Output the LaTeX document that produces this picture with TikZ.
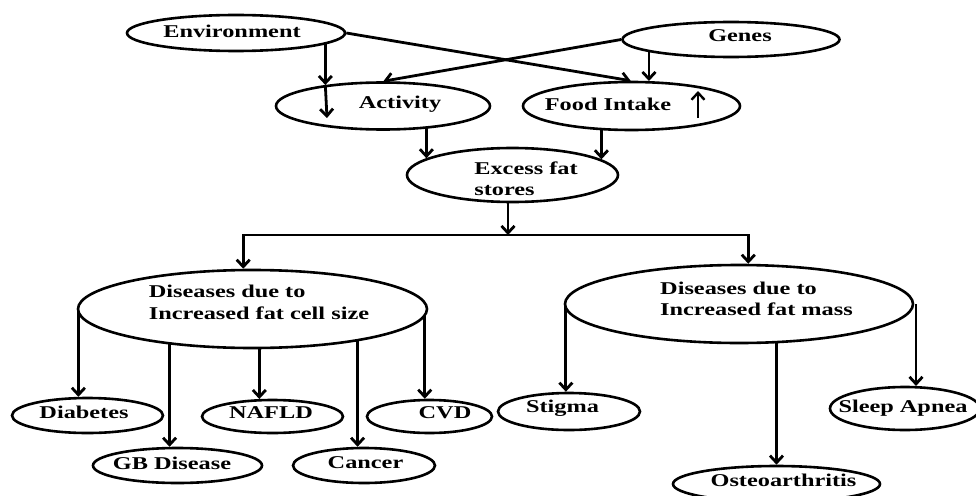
\documentclass[tikz,border=0pt]{standalone}
\usepackage{fontspec}
\setmainfont{Liberation Serif}[FakeStretch=1.35]
\usetikzlibrary{shapes.geometric,arrows.meta}
\pgfdeclarelayer{bg}
\pgfsetlayers{bg,main}
\begin{document}
\begin{tikzpicture}[x=1pt,y=-1pt,
  ell/.style={ellipse,draw,line width=2.6pt,fill=white,inner sep=0pt},
  lbl/.style={font=\bfseries\fontsize{18}{21.5}\selectfont,inner sep=0pt},
  conn/.style={line width=2.8pt,-{Straight Barb[length=7pt,width=13pt]}},
]
\useasboundingbox (0,0) rectangle (976,495);
\clip (0,0) rectangle (976,495);

% top level
\node[ell,minimum width=218pt,minimum height=36pt,
  label={[lbl,xshift=-4pt,yshift=2pt]center:Environment}] (env) at (236,33) {};
\node[ell,minimum width=217pt,minimum height=35pt,
  label={[lbl,xshift=9pt,yshift=3.5pt]center:Genes}] (genes) at (731,39.5) {};
\node[ell,minimum width=214pt,minimum height=47pt,
  label={[lbl,xshift=17pt,yshift=2pt]center:Activity}] (act) at (383,106) {};
\node[ell,minimum width=217pt,minimum height=48pt,
  label={[lbl,xshift=-23.5pt,yshift=2pt]center:Food Intake}] (food) at (631.5,106) {};
\node[ell,minimum width=211pt,minimum height=54pt,
  label={[lbl,align=left,xshift=13.5pt,yshift=-3.5pt]center:{Excess fat\\stores}}] (exc) at (512.5,175) {};

% second level
\node[ell,minimum width=349pt,minimum height=78pt,
  label={[lbl,align=left,xshift=6.5pt,yshift=6.5pt]center:{Diseases due to\\Increased fat cell size}}] (d1) at (252.5,309) {};
\node[ell,minimum width=348pt,minimum height=78pt,
  label={[lbl,align=left,xshift=17.5pt,yshift=5pt]center:{Diseases due to\\Increased fat mass}}] (d2) at (739,304) {};

% leaves
\node[ell,minimum width=151pt,minimum height=35pt,
  label={[lbl,xshift=-3.5pt,yshift=3.5pt]center:Diabetes}] (diab) at (87.5,415.5) {};
\node[ell,minimum width=169pt,minimum height=35pt,
  label={[lbl,xshift=-5.5pt,yshift=2.5pt]center:GB Disease}] (gb) at (177.5,465.5) {};
\node[ell,minimum width=141pt,minimum height=33pt,
  label={[lbl,xshift=-1.5pt,yshift=3.5pt]center:NAFLD}] (nafld) at (272.5,416.5) {};
\node[ell,minimum width=142pt,minimum height=35pt,
  label={[lbl,xshift=1.5pt,yshift=2.5pt]center:Cancer}] (cancer) at (364,465.5) {};
\node[ell,minimum width=125pt,minimum height=33pt,
  label={[lbl,xshift=15.5pt,yshift=3.5pt]center:CVD}] (cvd) at (429.5,416.5) {};
\node[ell,minimum width=142pt,minimum height=37pt,
  label={[lbl,xshift=-6.5pt,yshift=3.5pt]center:Stigma}] (stigma) at (569,411.5) {};
\node[ell,minimum width=207pt,minimum height=36pt,
  label={[lbl,xshift=7pt,yshift=4pt]center:Osteoarthritis}] (osteo) at (776.5,484) {};
\node[ell,minimum width=150pt,minimum height=43pt,
  label={[lbl,xshift=-2pt,yshift=0.5pt]center:Sleep Apnea}] (sleep) at (905,408.5) {};

\coordinate (bus) at (508,235);
\coordinate (envtip) at (327,118);
\coordinate (uptail) at (698,118);
\coordinate (uphead) at (698,91);

\begin{pgfonlayer}{bg}
\draw[conn] (act.160.3 |- env.center) -- (act.160.3);
\draw[conn] (env.east) -- (food.92);
\draw[conn] (genes.west) -- (act.89);
\draw[conn] (food.55.2 |- genes.center) -- (food.55.2);
\draw[conn] (exc.169.5 |- act.center) -- (exc.169.5);
\draw[conn] (exc.10.5 |- food.center) -- (exc.10.5);
\draw[conn] (bus |- exc.center) -- (bus);
\draw[conn] (bus) -| (d1.103.7);
\draw[conn] (bus) -| (d2.77);
\draw[conn] (diab.116 |- d1.center) -- (diab.116);
\draw[conn] (gb.113.3 |- d1.center) -- (gb.113.3);
\draw[conn] (nafld.127.6 |- d1.center) -- (nafld.127.6);
\draw[conn] (cancer.109 |- d1.center) -- (cancer.109);
\draw[conn] (cvd.105.3 |- d1.center) -- (cvd.105.3);
\draw[conn] (stigma.99.2 |- d2.center) -- (stigma.99.2);
\draw[conn] (osteo.north |- d2.center) -- (osteo.north);
\draw[conn] (sleep.64.8 |- d2.center) -- (sleep.64.8);
\end{pgfonlayer}

\draw[conn] (act.160.3) -- (envtip);
\draw[conn,line width=2.4pt] (uptail) -- (uphead);
\end{tikzpicture}
\end{document}
